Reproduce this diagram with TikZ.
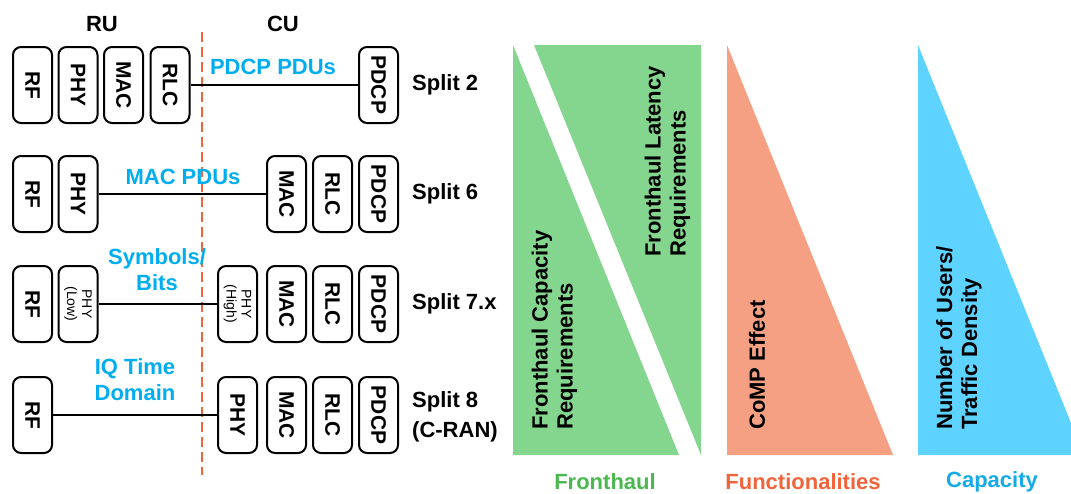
\documentclass[tikz,border=0pt]{standalone}
\usepackage{fontspec}
\setmainfont{Liberation Sans}
\definecolor{bluetxt}{RGB}{0,174,239}
\definecolor{splitred}{RGB}{242,101,58}
\definecolor{greenfill}{RGB}{132,214,142}
\definecolor{orangefill}{RGB}{245,160,131}
\definecolor{bluefill}{RGB}{95,211,255}
\definecolor{greentxt}{RGB}{76,184,80}
\definecolor{orangetxt}{RGB}{240,100,60}
\definecolor{captxt}{RGB}{20,170,230}
\begin{document}
\begin{tikzpicture}[x=1pt,y=-1pt,
  box/.style={draw, line width=2pt, rounded corners=8pt, minimum width=39pt, minimum height=76pt, inner sep=0pt, font=\fontsize{21}{21}\selectfont\bfseries},
  sbox/.style={box, font=\fontsize{14}{17}\selectfont},
  conn/.style={line width=2pt},
  blu/.style={text=bluetxt, font=\fontsize{22}{26}\selectfont\bfseries, align=center, inner sep=0pt},
  lbl/.style={font=\fontsize{22}{30}\selectfont\bfseries, align=left, anchor=west, inner sep=0pt},
  rot/.style={rotate=90, anchor=west, align=left, inner sep=0pt, font=\fontsize{22}{25}\selectfont\bfseries},
  head/.style={font=\fontsize{22}{22}\selectfont\bfseries, inner sep=0pt}]
\useasboundingbox (0,0) rectangle (1071,493);

% headers
\node[head] (ru) at (102,24) {RU};
\node[head] (cu) at (283,24) {CU};

% split dashed line
\coordinate (dtop) at (202,32);
\coordinate (dbot) at (202,475);
\draw[splitred, line width=2.5pt, dash pattern=on 10pt off 5pt] (dtop) -- (dbot);

% Row 1: Split 2
\node[box] (r1rf)   at (32.5,85) {\rotatebox{-90}{RF}};
\node[box] (r1phy)  at (78,85)   {\rotatebox{-90}{PHY}};
\node[box] (r1mac)  at (123.5,85){\rotatebox{-90}{MAC}};
\node[box] (r1rlc)  at (170,85)  {\rotatebox{-90}{RLC}};
\node[box] (r1pdcp) at (378.5,85){\rotatebox{-90}{PDCP}};
\draw[conn] (r1rlc.east) -- (r1pdcp.west);
\node[blu] (t1) at (273,67) {PDCP PDUs};
\node[lbl] (s1) at (412,85) {Split 2};

% Row 2: Split 6
\node[box] (r2rf)   at (32.5,194) {\rotatebox{-90}{RF}};
\node[box] (r2phy)  at (78,194)   {\rotatebox{-90}{PHY}};
\node[box] (r2mac)  at (286.5,194){\rotatebox{-90}{MAC}};
\node[box] (r2rlc)  at (332.5,194){\rotatebox{-90}{RLC}};
\node[box] (r2pdcp) at (378.5,194){\rotatebox{-90}{PDCP}};
\draw[conn] (r2phy.east) -- (r2mac.west);
\node[blu] (t2) at (183,177) {MAC PDUs};
\node[lbl] (s2) at (412,194) {Split 6};

% Row 3: Split 7.x
\node[box] (r3rf)   at (32.5,304) {\rotatebox{-90}{RF}};
\node[sbox] (r3phyl) at (78,304)  {\rotatebox{-90}{\begin{tabular}{@{}c@{}}PHY\\[-2pt](Low)\end{tabular}}};
\node[sbox] (r3phyh) at (237.5,304){\rotatebox{-90}{\begin{tabular}{@{}c@{}}PHY\\[-2pt](High)\end{tabular}}};
\node[box] (r3mac)  at (286.5,304){\rotatebox{-90}{MAC}};
\node[box] (r3rlc)  at (332.5,304){\rotatebox{-90}{RLC}};
\node[box] (r3pdcp) at (378.5,304){\rotatebox{-90}{PDCP}};
\draw[conn] (r3phyl.east) -- (r3phyh.west);
\node[blu] (t3) at (157,270) {Symbols/\\Bits};
\node[lbl] (s3) at (412,304) {Split 7.x};

% Row 4: Split 8
\node[box] (r4rf)   at (32.5,415) {\rotatebox{-90}{RF}};
\node[box] (r4phy)  at (237.5,415){\rotatebox{-90}{PHY}};
\node[box] (r4mac)  at (286.5,415){\rotatebox{-90}{MAC}};
\node[box] (r4rlc)  at (332.5,415){\rotatebox{-90}{RLC}};
\node[box] (r4pdcp) at (378.5,415){\rotatebox{-90}{PDCP}};
\draw[conn] (r4rf.east) -- (r4phy.west);
\node[blu] (t4) at (135,380) {IQ Time\\Domain};
\node[lbl] (s4) at (412,417) {Split 8\\(C-RAN)};

% Triangles
\fill[greenfill] (513,45) -- (679,455) -- (513,455) -- cycle;
\fill[greenfill] (534,45) -- (701,45) -- (701,455) -- cycle;
\fill[orangefill] (727,45) -- (893,455) -- (727,455) -- cycle;
\begin{scope}
\clip (0,0) rectangle (1071,493);
\fill[bluefill] (918,45) -- (1084,455) -- (918,455) -- cycle;
\end{scope}

\node[rot] (fcap) at (554.5,430) {Fronthaul Capacity\\Requirements};
\node[rot] (flat) at (667.5,257) {Fronthaul Latency\\Requirements};
\node[rot] (comp) at (757,430) {CoMP Effect};
\node[rot] (nusr) at (959,430) {Number of Users/\\Traffic Density};

% bottom labels
\node[head, text=greentxt] (lfh) at (605,482) {Fronthaul};
\node[head, text=orangetxt] (lfn) at (803,482) {Functionalities};
\node[head, text=captxt] (lcp) at (992,482) {Capacity};
\end{tikzpicture}
\end{document}
